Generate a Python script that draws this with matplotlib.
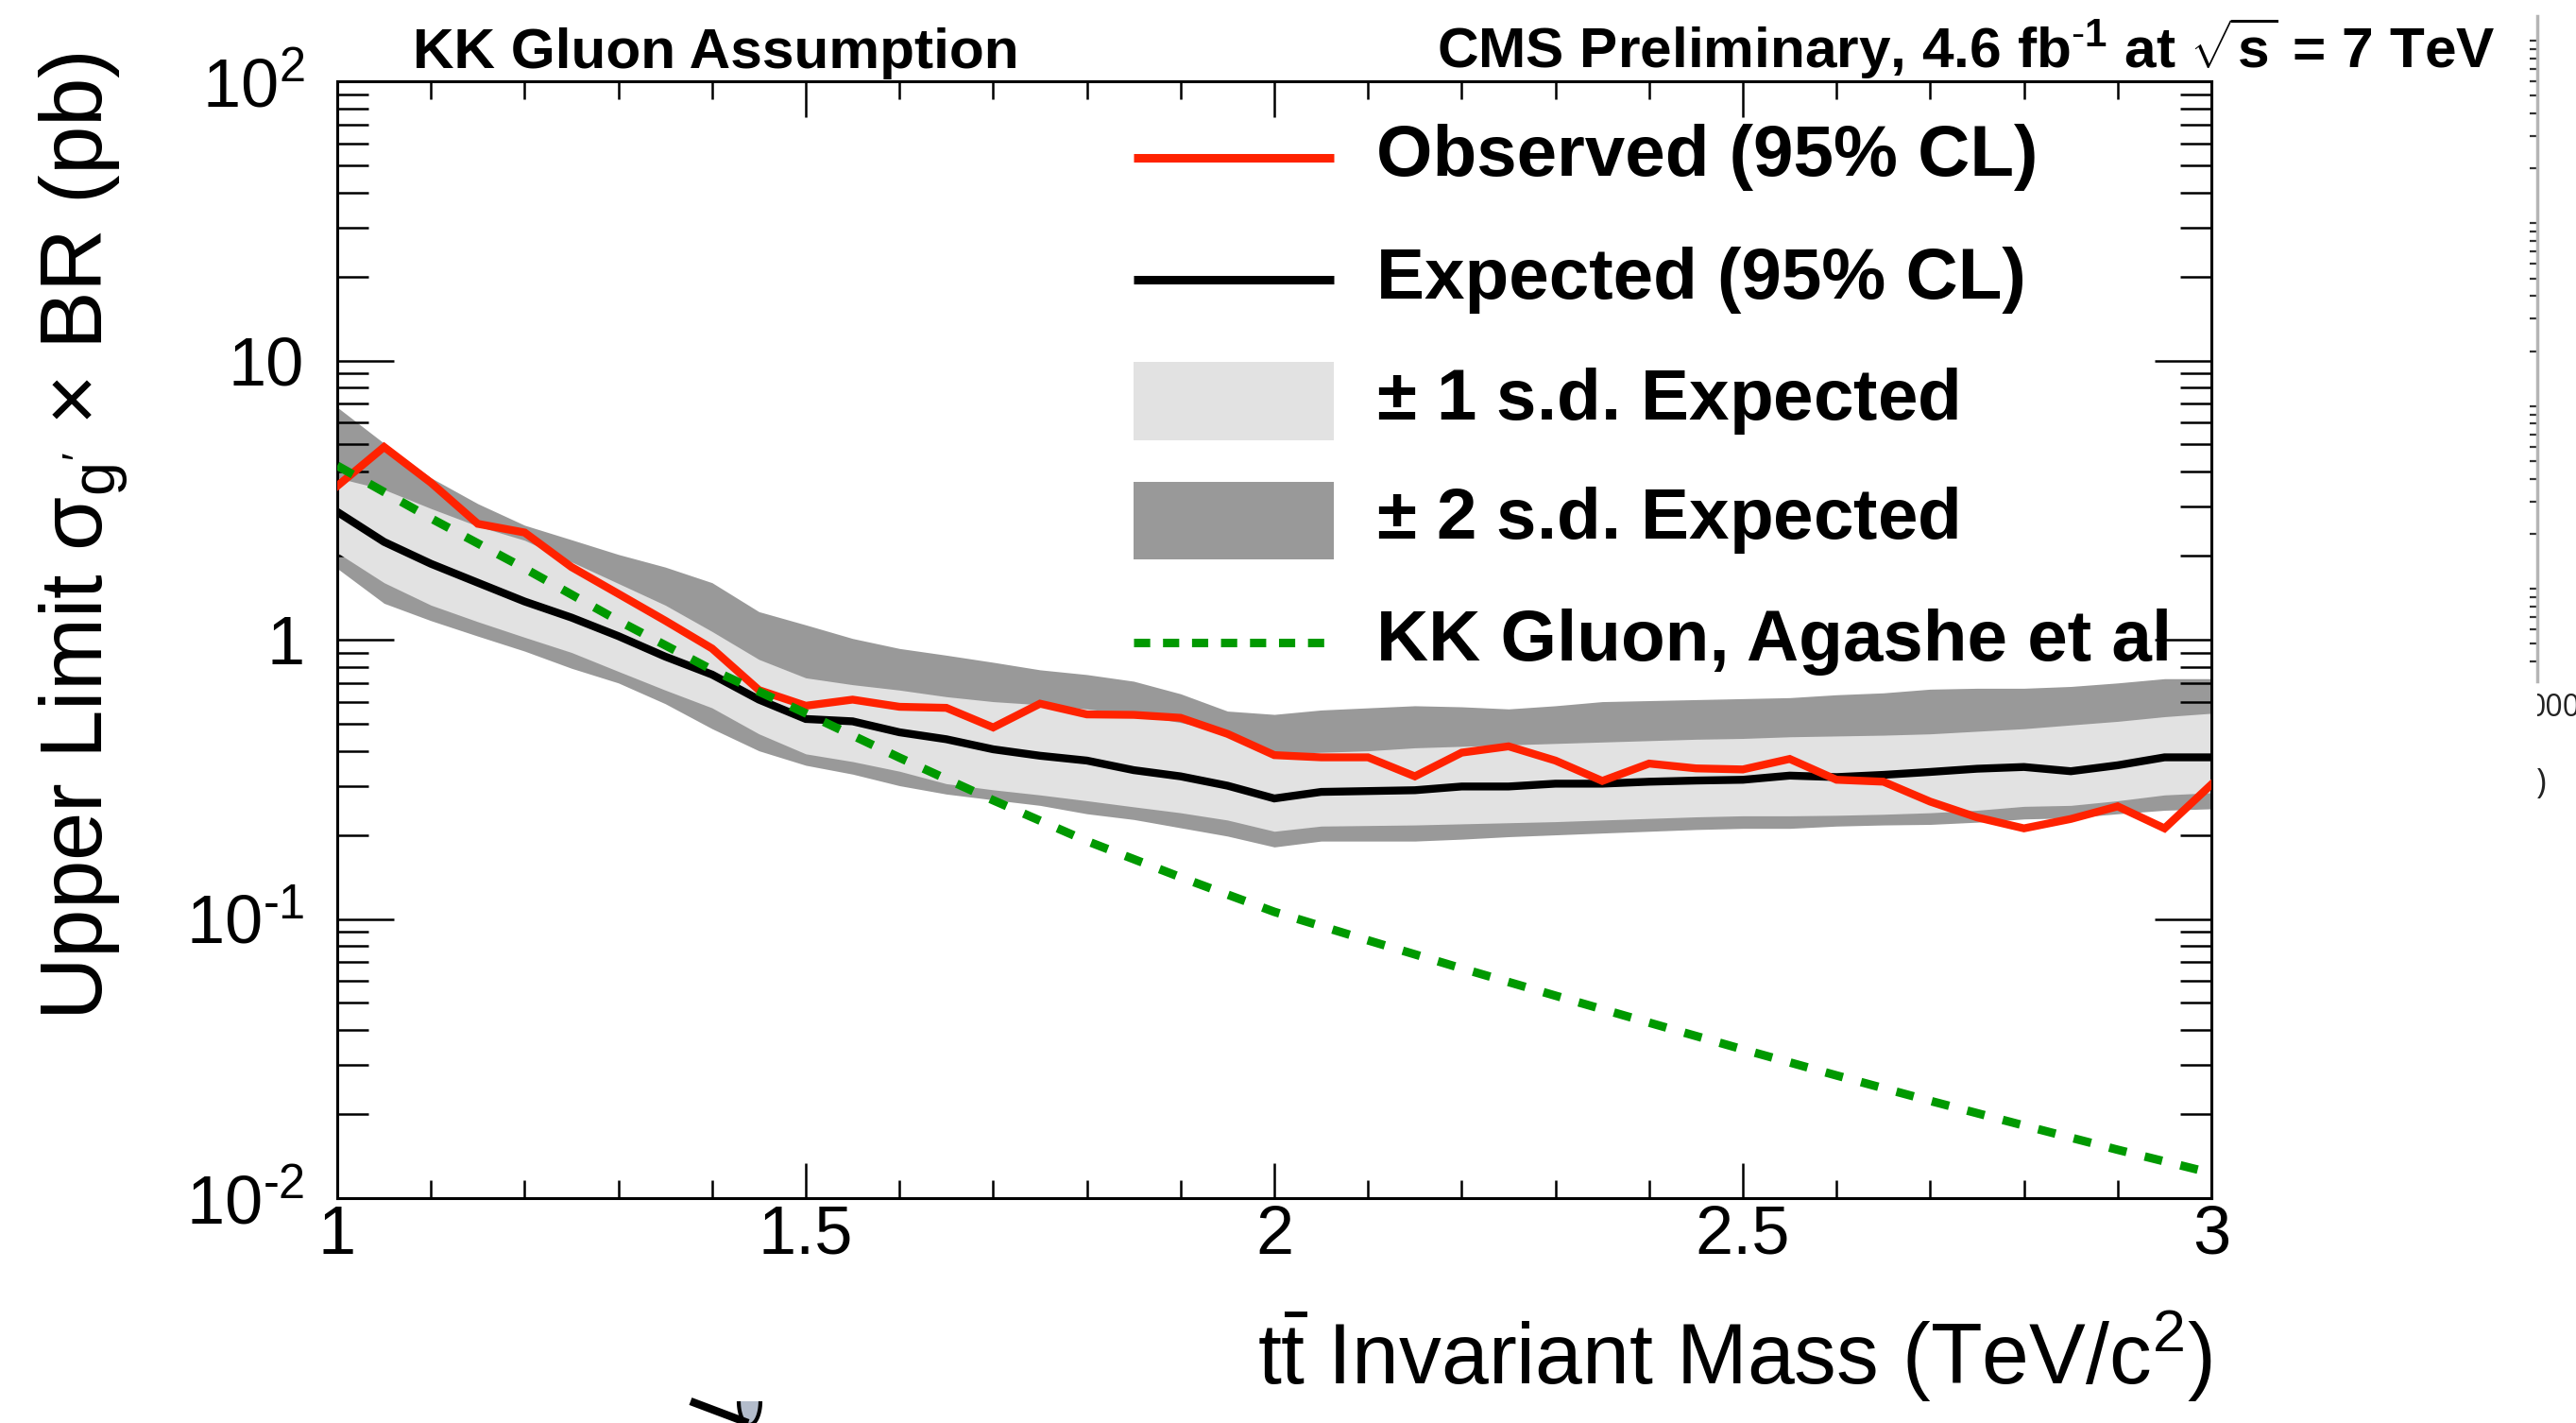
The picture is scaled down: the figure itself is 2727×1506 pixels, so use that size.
import numpy as np
import matplotlib
matplotlib.use("Agg")
import matplotlib.pyplot as plt
from matplotlib.ticker import FixedLocator, MultipleLocator, LogLocator, NullFormatter, FuncFormatter
from matplotlib.lines import Line2D
from matplotlib.patches import Rectangle, Polygon

plt.rcParams["font.family"] = ["Liberation Sans", "DejaVu Sans"]
plt.rcParams["mathtext.fontset"] = "custom"
plt.rcParams["mathtext.rm"] = "Liberation Sans"
plt.rcParams["mathtext.it"] = "Liberation Sans:italic"
plt.rcParams["mathtext.bf"] = "Liberation Sans:bold"
plt.rcParams["mathtext.default"] = "regular"

# ---------------- data (TeV/c^2, pb) ----------------
mass = [1.00, 1.05, 1.10, 1.15, 1.20, 1.25, 1.30, 1.35, 1.40, 1.45,
        1.50, 1.55, 1.60, 1.65, 1.70, 1.75, 1.80, 1.85, 1.90, 1.95,
        2.00, 2.05, 2.10, 2.15, 2.20, 2.25, 2.30, 2.35, 2.40, 2.45,
        2.50, 2.55, 2.60, 2.65, 2.70, 2.75, 2.80, 2.85, 2.90, 2.95, 3.00]

observed = [3.55, 4.9, 3.65, 2.6, 2.42, 1.82, 1.46, 1.17, 0.93, 0.66,
            0.58, 0.61, 0.575, 0.57, 0.485, 0.59, 0.54, 0.538, 0.525, 0.46,
            0.386, 0.379, 0.379, 0.324, 0.394, 0.415, 0.369, 0.312, 0.36, 0.346,
            0.343, 0.374, 0.315, 0.31, 0.263, 0.231, 0.211, 0.228, 0.253, 0.211, 0.303]

expected = [2.87, 2.24, 1.87, 1.6, 1.37, 1.2, 1.03, 0.87, 0.75, 0.61,
            0.52, 0.51, 0.466, 0.44, 0.405, 0.384, 0.369, 0.341, 0.324, 0.30,
            0.27, 0.285, 0.287, 0.289, 0.298, 0.298, 0.305, 0.305, 0.31, 0.313,
            0.315, 0.326, 0.322, 0.328, 0.336, 0.345, 0.35, 0.338, 0.355, 0.379, 0.379]

exp_plus2 = [6.8, 5.05, 3.8, 3.07, 2.57, 2.28, 2.02, 1.82, 1.6, 1.26,
             1.13, 1.01, 0.93, 0.88, 0.83, 0.78, 0.75, 0.71, 0.64, 0.555,
             0.54, 0.56, 0.57, 0.58, 0.575, 0.565, 0.58, 0.60, 0.605, 0.61,
             0.615, 0.62, 0.635, 0.645, 0.665, 0.67, 0.67, 0.68, 0.70, 0.725, 0.725]

exp_plus1 = [3.8, 3.45, 2.95, 2.55, 2.27, 1.9, 1.59, 1.33, 1.07, 0.85,
             0.73, 0.69, 0.66, 0.625, 0.60, 0.585, 0.565, 0.54, 0.505, 0.465,
             0.39, 0.395, 0.40, 0.41, 0.415, 0.42, 0.425, 0.43, 0.435, 0.44,
             0.443, 0.449, 0.452, 0.455, 0.46, 0.47, 0.48, 0.495, 0.51, 0.53, 0.545]

exp_minus1 = [2.05, 1.6, 1.33, 1.16, 1.02, 0.9, 0.77, 0.66, 0.57, 0.46,
              0.39, 0.366, 0.338, 0.305, 0.29, 0.278, 0.265, 0.252, 0.24, 0.226,
              0.206, 0.215, 0.216, 0.217, 0.219, 0.221, 0.223, 0.226, 0.229, 0.232,
              0.234, 0.234, 0.235, 0.237, 0.24, 0.245, 0.253, 0.255, 0.265, 0.278, 0.283]

exp_minus2 = [1.8, 1.35, 1.17, 1.03, 0.91, 0.79, 0.70, 0.59, 0.48, 0.40,
              0.355, 0.33, 0.30, 0.28, 0.267, 0.255, 0.238, 0.227, 0.212, 0.198,
              0.181, 0.19, 0.19, 0.19, 0.193, 0.197, 0.20, 0.203, 0.206, 0.209,
              0.211, 0.211, 0.215, 0.217, 0.218, 0.222, 0.228, 0.23, 0.238, 0.245, 0.248]

kk_mass = [1.0, 1.1, 1.2, 1.3, 1.4, 1.5, 1.6, 1.7, 1.8, 1.9, 2.0,
           2.1, 2.2, 2.3, 2.4, 2.5, 2.6, 2.7, 2.8, 2.9, 3.0]
kk_xsec = [4.2, 2.72, 1.8, 1.17, 0.78, 0.545, 0.378, 0.266, 0.19, 0.141, 0.106,
           0.0838, 0.0665, 0.0531, 0.0425, 0.0341, 0.0275, 0.0223, 0.0182, 0.0149, 0.0123]

x_ticks = [1, 1.5, 2, 2.5, 3]
x_tick_labels = ["1", "1.5", "2", "2.5", "3"]
y_tick_labels = {2: r"$10^{2}$", 1: "10", 0: "1",
                 -1: r"$10^{\text{-}1}$", -2: r"$10^{\text{-}2}$"}

legend_labels = ["Observed (95% CL)", "Expected (95% CL)", r"$\pm$ 1 s.d. Expected",
                 r"$\pm$ 2 s.d. Expected", "KK Gluon, Agashe et al"]

# ---------------- styles ----------------
RED = "#ff2200"
GREEN = "#009900"
LIGHT = "#e2e2e2"
DARK = "#999999"
LW = 6.0
KK_DASH = (2.1, 2.2)

W, H = 2727, 1506
fig = plt.figure(figsize=(W / 100, H / 100), dpi=100)
fig.patch.set_facecolor("white")

# main frame (pixel box 357..2341 x 86..1268)
ax = fig.add_axes([357 / W, (H - 1268) / H, (2341 - 357) / W, (1268 - 86) / H])
ax.set_yscale("log")
ax.set_xlim(1, 3)
ax.set_ylim(1e-2, 1e2)

ax.fill_between(mass, exp_minus2, exp_plus2, color=DARK, lw=0, zorder=1)
ax.fill_between(mass, exp_minus1, exp_plus1, color=LIGHT, lw=0, zorder=2)
ax.plot(mass, expected, color="black", lw=LW, zorder=3, solid_joinstyle="miter")
ax.plot(mass, observed, color=RED, lw=LW, zorder=4, solid_joinstyle="miter")
ax.plot(kk_mass, kk_xsec, color=GREEN, lw=LW + 0.5, dashes=KK_DASH, zorder=5,
        dash_capstyle="butt")

# axes cosmetics
for s in ax.spines.values():
    s.set_linewidth(2.2)
ax.xaxis.set_major_locator(FixedLocator(x_ticks))
ax.xaxis.set_major_formatter(FuncFormatter(lambda v, p: x_tick_labels[x_ticks.index(v)] if v in x_ticks else ""))
ax.xaxis.set_minor_locator(MultipleLocator(0.1))
ax.yaxis.set_major_locator(LogLocator(base=10, numticks=10))
ax.yaxis.set_major_formatter(FuncFormatter(lambda v, p: y_tick_labels.get(int(round(np.log10(v))), "")))
ax.yaxis.set_minor_locator(LogLocator(base=10, subs=np.arange(2, 10), numticks=20))
ax.yaxis.set_minor_formatter(NullFormatter())

ax.tick_params(which="both", direction="in", top=True, right=True, width=1.8)
ax.tick_params(axis="x", which="major", length=27, labelsize=52, pad=5)
ax.tick_params(axis="x", which="minor", length=13.5)
ax.tick_params(axis="y", which="major", length=43, labelsize=52, pad=25)
ax.tick_params(axis="y", which="minor", length=24)

# axis titles
fig.text(2342 / W, (H - 1465) / H, r"$t\bar{t}$ Invariant Mass (TeV/c$^{2}$)",
         ha="right", va="baseline", fontsize=64.5)
fig.text(108 / W, 1 - 568 / H, "Upper Limit \u03c3$_{g'}$ \u00d7 BR (pb)",
         rotation=90, rotation_mode="anchor", ha="center", va="baseline", fontsize=66.5)

# header texts
fig.text(437 / W, (H - 72) / H, "KK Gluon Assumption", ha="left", va="baseline",
         fontsize=43.5, fontweight="bold")
fig.text(2641 / W, (H - 72) / H,
         r"CMS Preliminary, 4.6 fb$^{\mathbf{\text{-}1}}$ at $\sqrt{\mathbf{s}}$ = 7 TeV",
         ha="right", va="baseline", fontsize=43.5, fontweight="bold")

# legend drawn in axes coordinates
lx0, lx1, ltx = 0.4249, 0.5318, 0.5544
rows = [0.9315, 0.8223, 0.714, 0.6066, 0.4975]
box_h = 0.0702
ax.add_line(Line2D([lx0, lx1], [rows[0]] * 2, transform=ax.transAxes, color=RED,
                   lw=LW + 0.5, solid_capstyle="butt", clip_on=False, zorder=6))
ax.add_line(Line2D([lx0, lx1], [rows[1]] * 2, transform=ax.transAxes, color="black",
                   lw=LW + 0.5, solid_capstyle="butt", clip_on=False, zorder=6))
ax.add_patch(Rectangle((lx0, rows[2] - box_h / 2), lx1 - lx0, box_h, transform=ax.transAxes,
                       color=LIGHT, lw=0, clip_on=False, zorder=6))
ax.add_patch(Rectangle((lx0, rows[3] - box_h / 2), lx1 - lx0, box_h, transform=ax.transAxes,
                       color=DARK, lw=0, clip_on=False, zorder=6))
ax.add_line(Line2D([lx0, lx1], [rows[4]] * 2, transform=ax.transAxes, color=GREEN,
                   lw=LW + 0.5, dashes=(1.9, 1.5), dash_capstyle="butt", clip_on=False, zorder=6))
for yy, lab in zip(rows, legend_labels):
    ax.text(ltx, yy, lab, transform=ax.transAxes, ha="left", va="center",
            fontsize=55, fontweight="bold", zorder=7)

# neighbouring panel peeking in at the right edge
axr = fig.add_axes([2686 / W, (H - 721) / H, 0.0005, (721 - 17) / H])
axr.set_yscale("log")
axr.set_ylim(10 ** -0.507, 10 ** 3.135)
axr.set_xticks([])
for side in ["top", "bottom", "right"]:
    axr.spines[side].set_visible(False)
axr.spines["left"].set_color("#b5b5b5")
axr.spines["left"].set_linewidth(2.5)
axr.yaxis.set_major_locator(LogLocator(base=10, numticks=10))
axr.yaxis.set_minor_locator(LogLocator(base=10, subs=np.arange(2, 10), numticks=20))
axr.yaxis.set_major_formatter(NullFormatter())
axr.yaxis.set_minor_formatter(NullFormatter())
axr.tick_params(which="both", direction="out", length=5.5, width=1.6, color="#333333")
axr.patch.set_alpha(0)

axc = fig.add_axes([2686 / W, (H - 900) / H, (W - 2686) / W, 200 / H])
axc.set_xlim(2686, W)
axc.set_ylim(900, 700)
axc.axis("off")
axc.text(2676, 750, "000", ha="left", va="center", fontsize=23, color="#222222",
         family="Open Sans", clip_on=True)
axc.text(2696, 830, ")", ha="right", va="center", fontsize=26, color="#222222",
         family="Open Sans", clip_on=True)

# stray pen tip at the bottom edge
axb = fig.add_axes([700 / W, 0, 130 / W, 40 / H])
axb.set_xlim(700, 830)
axb.set_ylim(1506, 1466)
axb.axis("off")
t = np.linspace(0, np.pi, 30)
tip = np.column_stack([793.5 + 11.5 * np.cos(t), 1483 + 25 * np.sin(t)])
axb.add_patch(Polygon(tip, closed=False, facecolor="#b3bccb", edgecolor="black", lw=3,
                      clip_on=False))
axb.add_line(Line2D([731, 792], [1483, 1506], color="black", lw=6, solid_capstyle="butt"))

fig.savefig("out.png", dpi=100, facecolor="white")
